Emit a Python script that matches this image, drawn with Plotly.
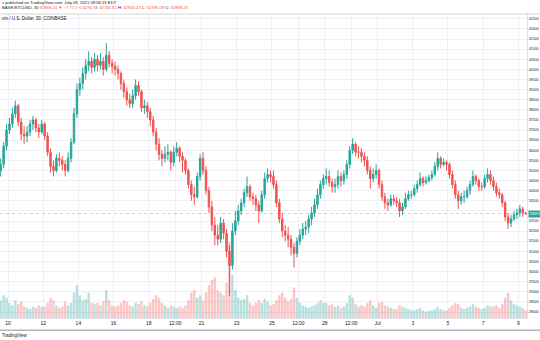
import pandas as pd
import plotly.graph_objects as go

# ---------------- data (4-hour candles) ----------------
start_time = "2021-06-09 12:00"
first_open = 35000
closes = [
    35300, 36200, 37000,
    37300, 37800, 38200, 37400, 36800, 36700,
    36900, 37300, 37500, 37100, 36900, 37300,
    36700, 35900, 35200, 35000, 35600, 35500,
    35300, 35000, 35600, 36400, 37800, 39000,
    39300, 39800, 40200, 40400, 40100, 40500,
    40200, 40400, 40000, 40700, 40300, 40150,
    40000, 39800, 39300, 38900, 38500, 38300,
    38700, 39200, 38900, 38100, 38200, 37900,
    37500, 36900, 36300, 35800, 35600, 35800,
    35900, 35400, 35900, 36100, 35700, 35500,
    35000, 34300, 33800, 33700, 34700, 35600,
    35000, 34000, 33200, 32300, 31800, 31600,
    32400, 31900, 31000, 30300, 32000, 32500,
    33000, 33400, 33900, 34200, 33700, 33600,
    33300, 33000, 33800, 34600, 34800, 34700,
    34300, 33400, 32600, 32000, 31800, 31600,
    31200, 30900, 31500, 31800, 32100, 32200,
    32600, 32900, 33300, 33800, 34300, 34600,
    34700, 34400, 34200, 34300, 34700, 34500,
    34800, 35300, 36000, 36300, 35900, 35900,
    35700, 35500, 35000, 34600, 34800, 35000,
    34300, 33700, 33400, 33300, 33600, 33500,
    33400, 33000, 33200, 33600, 33800, 33800,
    34100, 34300, 34600, 34400, 34500, 34650,
    34800, 35200, 35600, 35300, 35400, 35300,
    34800, 34300, 33800, 33500, 33700, 33700,
    34000, 34300, 34700, 34500, 34200, 34200,
    34600, 34800, 34500, 34200, 33900, 33800,
    33400, 32700, 32400, 32600, 32800, 32900,
    33100, 32900, 32868.25,
]
highs = [
    35600, 36400, 37300,
    37600, 38100, 38450, 38300, 37600, 37200,
    37200, 37500, 37700, 37600, 37300, 37500,
    37400, 36900, 36100, 35500, 35800, 35900,
    35700, 35500, 35900, 36600, 38100, 39300,
    39600, 40100, 40500, 40900, 40600, 40800,
    40700, 40800, 40600, 41300, 40900, 40500,
    40400, 40200, 39900, 39500, 39100, 38800,
    39000, 39500, 39400, 39000, 38500, 38400,
    38100, 37700, 37100, 36600, 36000, 36200,
    36300, 36000, 36200, 36400, 36200, 35900,
    35600, 35100, 34500, 34200, 34900, 35800,
    35900, 35200, 34200, 33500, 32700, 32300,
    32700, 32600, 32100, 31300, 32400, 33000,
    33300, 33600, 34100, 34700, 34300, 33900,
    33800, 33500, 34000, 34900, 35100, 35000,
    35000, 34500, 33600, 32900, 32300, 32200,
    31800, 31400, 31700, 32100, 32400, 32500,
    32800, 33200, 33600, 34100, 34500, 34800,
    35100, 35000, 34600, 34600, 35000, 34900,
    35000, 35500, 36200, 36600, 36400, 36200,
    36100, 35900, 35700, 35200, 35100, 35300,
    35100, 34500, 33900, 33600, 33800, 33800,
    33700, 33600, 33400, 33900, 34000, 34000,
    34300, 34500, 34900, 34700, 34700, 34800,
    35000, 35400, 35900, 35700, 35600, 35500,
    35400, 35000, 34500, 34000, 33900, 34000,
    34200, 34500, 35000, 34800, 34600, 34400,
    34800, 35100, 35000, 34700, 34400, 34100,
    33900, 33500, 32900, 32800, 33000, 33100,
    33300, 33200, 32920.21,
]
lows = [
    34700, 35100, 36000,
    36800, 37100, 37600, 37200, 36500, 36300,
    36400, 36700, 37000, 36900, 36600, 36800,
    36500, 35700, 34900, 34700, 34900, 35200,
    35000, 34700, 34900, 35400, 36300, 37600,
    38700, 39000, 39500, 39900, 39800, 39900,
    39900, 40000, 39700, 39900, 40100, 39800,
    39700, 39500, 39000, 38600, 38200, 38100,
    38100, 38500, 38700, 37900, 37800, 37600,
    37200, 36700, 36000, 35500, 35200, 35400,
    35500, 35000, 35200, 35700, 35400, 34900,
    34800, 34100, 33500, 33300, 33600, 34500,
    34800, 33800, 32900, 32000, 31300, 31300,
    31400, 31600, 30700, 28800, 30100, 31800,
    32300, 32800, 33200, 33700, 33500, 33300,
    33000, 32400, 32900, 33600, 34400, 34400,
    34100, 33200, 32400, 31700, 31500, 31200,
    30800, 30200, 30700, 31300, 31600, 31800,
    31900, 32300, 32700, 33100, 33600, 34100,
    34300, 34200, 33900, 33900, 34100, 34200,
    34300, 34600, 35100, 35800, 35700, 35600,
    35400, 35200, 34800, 34100, 34400, 34600,
    34100, 33500, 33100, 33000, 33200, 33300,
    33200, 32700, 32800, 33100, 33500, 33600,
    33700, 33900, 34200, 34200, 34300, 34400,
    34500, 34700, 35000, 35100, 35200, 35000,
    34600, 34100, 33600, 33100, 33300, 33400,
    33600, 33800, 34200, 34300, 34000, 34000,
    34100, 34400, 34300, 34000, 33700, 33600,
    33200, 32500, 32100, 32200, 32500, 32600,
    32700, 32700, 32795.08,
]
volumes = [
    14, 18, 16,
    12, 10, 14, 11, 13, 9,
    8, 7, 9, 8, 10, 9,
    9, 12, 16, 14, 10, 8,
    9, 13, 10, 12, 20, 26,
    18, 14, 15, 20, 12, 11,
    12, 10, 13, 22, 14, 10,
    9, 10, 12, 14, 13, 10,
    9, 12, 11, 13, 10, 9,
    12, 15, 18, 16, 12, 10,
    8, 10, 9, 8, 9, 8,
    10, 14, 20, 22, 16, 18,
    14, 20, 26, 30, 32, 22,
    20, 18, 28, 60, 34, 22,
    16, 14, 15, 18, 12, 10,
    12, 14, 12, 15, 13, 10,
    11, 14, 18, 20, 16, 13,
    15, 24, 16, 12, 10, 9,
    8, 9, 10, 12, 14, 12,
    12, 10, 11, 9, 10, 8,
    9, 12, 18, 16, 11, 9,
    10, 9, 12, 14, 10, 8,
    12, 13, 10, 9, 8, 7,
    7, 10, 9, 8, 7, 6,
    6, 7, 8, 6, 5, 6,
    6, 7, 9, 7, 6, 6,
    8, 10, 12, 11, 8, 7,
    8, 9, 11, 9, 8, 7,
    8, 10, 9, 9, 10, 8,
    11, 16, 20, 14, 11, 10,
    9, 8, 6,
]
x_tick_dates = ["2021-06-10", "2021-06-12", "2021-06-14", "2021-06-16", "2021-06-18",
                "2021-06-19 12:00", "2021-06-21", "2021-06-23", "2021-06-25",
                "2021-06-26 12:00", "2021-06-28", "2021-06-29 12:00", "2021-07-01",
                "2021-07-03", "2021-07-05", "2021-07-07", "2021-07-09"]
x_tick_labels = ["10", "12", "14", "16", "18", "12:00", "21", "23", "25", "12:00",
                 "28", "12:00", "Jul", "3", "5", "7", "9"]
price_ticks = list(range(28000, 43000, 500))
hidden_price_tick = 33000   # covered by the last-price label in the reference
last_price = 32868.25

# ---------------- build ----------------
times = pd.date_range(start_time, periods=len(closes), freq="4h")
opens = [first_open] + closes[:-1]

UP = "#26a69a"
DOWN = "#ef5350"
vol_colors = ["rgba(38,166,154,0.32)" if c >= o else "rgba(239,83,80,0.32)"
              for o, c in zip(opens, closes)]

fig = go.Figure()
fig.add_trace(go.Bar(
    x=times, y=volumes, yaxis="y2", marker_color=vol_colors, marker_line_width=0,
    xperiod=4 * 3600 * 1000, xperiodalignment="middle", showlegend=False,
))
fig.add_trace(go.Candlestick(
    x=times, open=opens, high=highs, low=lows, close=closes,
    increasing=dict(line=dict(color=UP, width=1), fillcolor=UP),
    decreasing=dict(line=dict(color=DOWN, width=1), fillcolor=DOWN),
    whiskerwidth=0, xperiod=4 * 3600 * 1000, xperiodalignment="middle",
    showlegend=False,
))

FONT = "Liberation Sans, Arial, sans-serif"
TXT = "#131722"
GRID = "#eef0f5"

fig.update_layout(
    width=540, height=340,
    margin=dict(l=0, r=13, t=14, b=22, autoexpand=False),
    paper_bgcolor="white", plot_bgcolor="white",
    font=dict(family=FONT, size=5, color=TXT),
    bargap=0.15,
    xaxis=dict(
        type="date", automargin=False,
        range=["2021-06-09 13:05", "2021-07-09 11:45"],
        tickvals=x_tick_dates, ticktext=x_tick_labels,
        showgrid=True, gridcolor=GRID, gridwidth=1,
        showline=True, linecolor="#e0e3eb", linewidth=1,
        ticks="", tickfont=dict(size=5, color=TXT),
        rangeslider=dict(visible=False), zeroline=False,
    ),
    yaxis=dict(
        side="right", range=[27703, 42739], automargin=False,
        tickvals=price_ticks,
        ticktext=["" if v == hidden_price_tick else f"{v}" for v in price_ticks],
        showgrid=True, gridcolor=GRID, gridwidth=1,
        showline=True, linecolor="#e0e3eb", linewidth=1,
        ticks="", tickfont=dict(size=3.6, color=TXT), zeroline=False,
    ),
    yaxis2=dict(overlaying="y", range=[0, 240], visible=False),
)

# last price dotted line and label
fig.add_shape(type="line", xref="paper", x0=0, x1=1, yref="y", y0=last_price, y1=last_price,
              line=dict(color=UP, width=0.6, dash="dot"), opacity=0.6)
fig.add_annotation(xref="paper", x=1.0, yref="y", y=last_price, xanchor="left",
                   text="32868.25", showarrow=False, bgcolor=UP,
                   font=dict(size=2.7, color="white"), borderpad=0.8, xshift=0.5)

# header
fig.add_shape(type="line", xref="paper", x0=0, x1=1.03, yref="paper", y0=1.0, y1=1.0,
              line=dict(color="#d1d4dc", width=1))
fig.add_annotation(xref="paper", x=0, yref="paper", y=1.038, xanchor="left", yanchor="middle",
                   showarrow=False, font=dict(size=4.2, color=TXT),
                   text="s published on TradingView.com, July 09, 2021 09:56:15 EDT")
red = "#ef5350"
line2 = ("BASE:BTCUSD, 30 "
         f"<span style='color:{red}'>32868.24 ▼ −7.71 (−0.02%)</span> "
         f"O: <span style='color:{red}'>32760.82</span> "
         f"H: <span style='color:{red}'>32920.21</span> "
         f"L: <span style='color:{red}'>32795.08</span> "
         f"C: <span style='color:{red}'>32868.25</span>")
fig.add_annotation(xref="paper", x=0, yref="paper", y=1.02, xanchor="left", yanchor="middle",
                   showarrow=False, font=dict(size=4.2, color=TXT), text=line2)
fig.add_annotation(xref="paper", x=0, yref="paper", y=0.985, xanchor="left", yanchor="middle",
                   showarrow=False, font=dict(size=4.5, color=TXT),
                   text="oin / U.S. Dollar, 30, COINBASE")

# footer
fig.add_shape(type="line", xref="paper", x0=0, x1=1.03, yref="paper", y0=-0.04, y1=-0.04,
              line=dict(color="#b2b5be", width=1.5))
fig.add_annotation(xref="paper", x=0, yref="paper", y=-0.056, xanchor="left", yanchor="middle",
                   showarrow=False, font=dict(size=4.5, color=TXT), text="TradingView")

fig.write_html("out.html")
